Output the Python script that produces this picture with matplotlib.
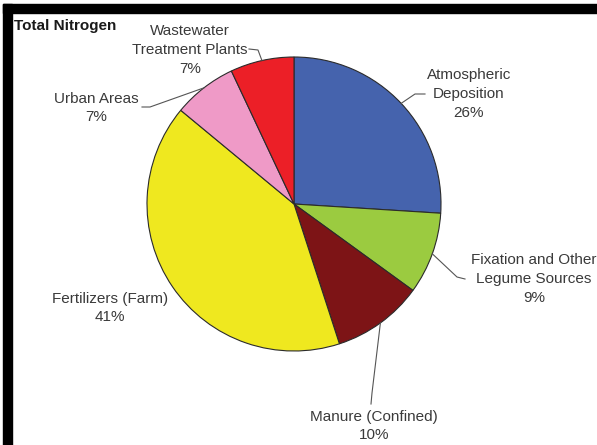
import numpy as np
import matplotlib.pyplot as plt
from matplotlib.patches import Rectangle

plt.rcParams['font.family'] = ['Liberation Sans', 'DejaVu Sans']

# ---------------- DATA ----------------
sources = ["Atmospheric\nDeposition", "Fixation and Other\nLegume Sources",
           "Manure (Confined)", "Fertilizers (Farm)", "Urban Areas",
           "Wastewater\nTreatment Plants"]
shares = [26, 9, 10, 41, 7, 7]
colors = ["#4563ad", "#9bcb40", "#7d1416", "#efe81f", "#ef9ac7", "#ec1f27"]

W, H = 597, 445


def px(x, y):
    # pixel coords (origin top-left) -> data coords
    return x, H - y


fig = plt.figure(figsize=(W / 100, H / 100), dpi=100)
ax = fig.add_axes([0, 0, 1, 1])

cx, cy = px(294, 204)
r = 147
wedges, _ = ax.pie(shares, colors=colors, startangle=90, counterclock=False,
                   center=(cx, cy), radius=r, frame=True,
                   wedgeprops=dict(edgecolor="#2b2b2b", linewidth=0.8))
ax.set_xlim(0, W)
ax.set_ylim(0, H)
ax.set_aspect('equal')
ax.axis('off')

# label layout: text centre, elbow and end of leader (pixels)
label_pos = [(469, 94), (534, 279), (374, 426), (110, 308), (96, 108), (190, 50)]
leaders = [[(415, 94), (425, 94)],
           [(457, 277), (465, 279)],
           [(372, 393), (371, 404)],
           None,
           [(150, 107), (142, 107)],
           [(258, 50), (249, 49)]]

txt_color = "#3a3a3a"
for w, name, val, pos, lead in zip(wedges, sources, shares, label_pos, leaders):
    tx, ty = px(*pos)
    ax.text(tx, ty, f"{name}\n{val}%", ha='center', va='center',
            fontsize=11, color=txt_color, linespacing=1.45)
    if lead is None:
        continue
    mid = np.deg2rad((w.theta1 + w.theta2) / 2)
    xs = [cx + r * np.cos(mid)] + [px(*p)[0] for p in lead]
    ys = [cy + r * np.sin(mid)] + [px(*p)[1] for p in lead]
    ax.plot(xs, ys, color="#555555", linewidth=0.8)

ax.text(*px(14, 26), "Total Nitrogen", ha='left', va='center',
        fontsize=11, fontweight='bold', color="#1a1a1a")

# black frame of the screenshot
ax.add_patch(Rectangle(px(3, 13), W - 3, 9, color='black', clip_on=False))
ax.add_patch(Rectangle(px(3, H), 9, H - 4, color='black', clip_on=False))

fig.savefig("out.png", dpi=100)
